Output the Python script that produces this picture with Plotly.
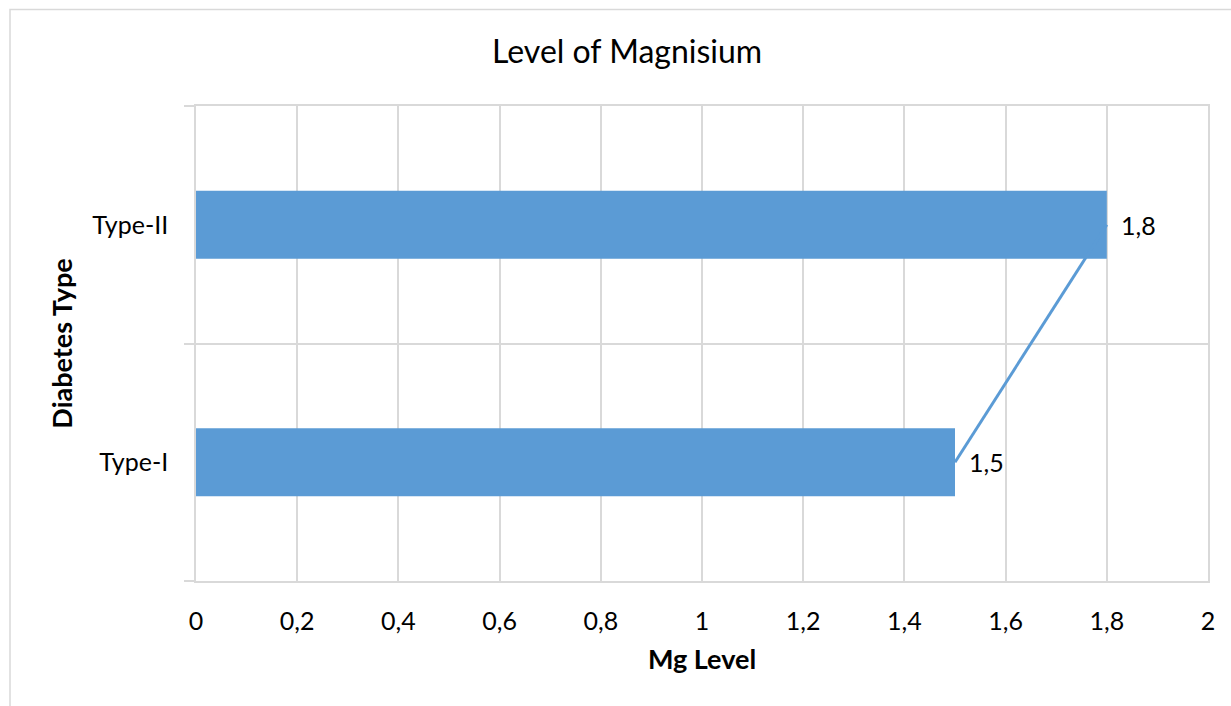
import plotly.graph_objects as go

categories = ["Type-I", "Type-II"]
mg_values = [1.5, 1.8]
x_tick_vals = [0, 0.2, 0.4, 0.6, 0.8, 1.0, 1.2, 1.4, 1.6, 1.8, 2.0]
x_tick_text = ["0", "0,2", "0,4", "0,6", "0,8", "1", "1,2", "1,4", "1,6", "1,8", "2"]

BLUE = "#5B9BD5"
GRID = "#D9D9D9"
FONT = "Lato"

fig = go.Figure()
fig.add_trace(go.Scatter(
    x=mg_values, y=categories, mode="lines",
    line=dict(color=BLUE, width=3, shape="spline"),
    hoverinfo="skip", showlegend=False,
))
fig.add_trace(go.Bar(
    x=mg_values, y=categories, orientation="h",
    marker=dict(color=BLUE, line=dict(width=0)),
    showlegend=False,
))

for v, c in zip(mg_values, categories):
    fig.add_annotation(
        x=v, y=c, xref="x", yref="y",
        text=f"{v:.1f}".replace(".", ","),
        showarrow=False, xanchor="left", yanchor="middle",
        xshift=12, font=dict(family=FONT, size=25, color="#000000"),
    )

fig.add_shape(
    type="rect", xref="paper", yref="paper",
    x0=-0.1838, x1=1.03, y0=-0.27, y1=1.2034,
    line=dict(color=GRID, width=1.5), fillcolor="rgba(0,0,0,0)", layer="below",
)

fig.update_layout(
    width=1231, height=706,
    margin=dict(l=196, r=23, t=106, b=125, autoexpand=False),
    paper_bgcolor="white", plot_bgcolor="white",
    bargap=0.713,
    font=dict(family=FONT, size=25, color="#000000"),
    title=dict(
        text="Level of Magnisium", font=dict(family=FONT, size=32, color="#000000"),
        x=0.426, xref="paper", xanchor="center",
        y=1 - 52 / 706, yref="container", yanchor="middle",
    ),
    xaxis=dict(
        range=[0, 2], tickvals=x_tick_vals, ticktext=x_tick_text,
        showgrid=True, gridcolor=GRID, gridwidth=1.5,
        zeroline=False, showline=True, mirror=True, linecolor=GRID, linewidth=1.5,
        ticks="", ticklabelstandoff=17,
        tickfont=dict(family=FONT, size=25),
        title=dict(text="<b>Mg Level</b>", font=dict(family=FONT, size=27), standoff=16),
    ),
    yaxis=dict(
        type="category", categoryorder="array", categoryarray=categories,
        range=[-0.5, 1.5],
        tickson="boundaries", showgrid=True, gridcolor=GRID, gridwidth=1.5,
        ticks="outside", ticklen=10, tickcolor=GRID, tickwidth=1.5,
        showline=True, mirror=True, linecolor=GRID, linewidth=1.5,
        zeroline=False, ticklabelstandoff=21,
        tickfont=dict(family=FONT, size=25),
        title=dict(text="<b>Diabetes Type</b>", font=dict(family=FONT, size=27), standoff=12),
    ),
)

fig.write_html(
    "out.html",
    config={"displayModeBar": False},
    post_script="document.body.style.margin='0px';window.dispatchEvent(new Event('resize'));",
)
